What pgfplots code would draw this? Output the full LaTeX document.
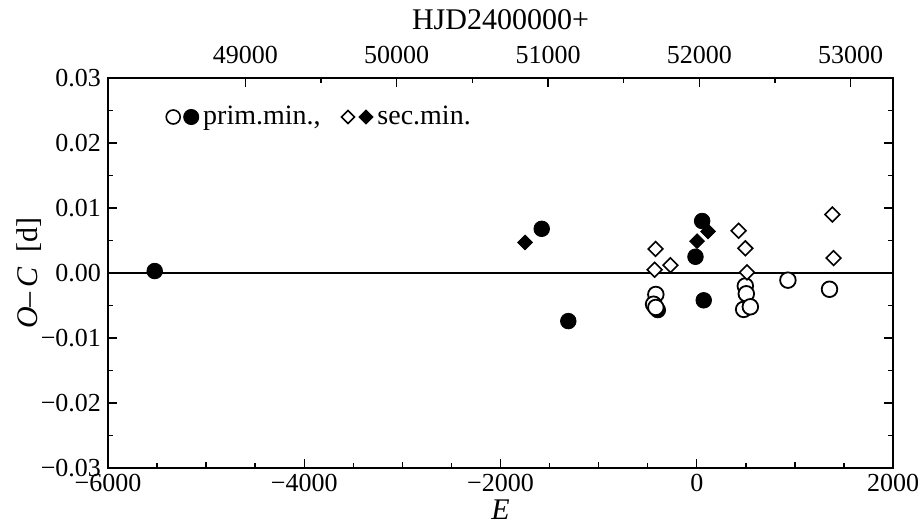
\documentclass[border=0pt]{standalone}
\usepackage{fontspec}
\setmainfont{Liberation Serif}
\usepackage{pgfplots}
\pgfplotsset{compat=1.18}

\pgfplotsset{
  oc frame/.style={
    scale only axis,
    width=392.5pt, height=195pt,
    scaled ticks=false,
    tick align=inside,
    major tick length=4.5pt, minor tick length=2.5pt,
    tick style={black, line width=0.7pt},
    axis line style={line width=0.9pt},
    ticklabel style={font=\fontsize{13}{15}\selectfont},
    label style={font=\fontsize{15}{17}\selectfont},
  },
}

\begin{document}
\begin{tikzpicture}
\begin{axis}[
  oc frame,
  name=main,
  xmin=-6000, xmax=2000,
  ymin=-0.03, ymax=0.03,
  xtick={-6000,-4000,-2000,0,2000},
  xticklabels={−6000,−4000,−2000,0,2000},
  minor x tick num=3,
  extra x ticks={-5000,-3000,-1000,1000},
  extra x tick labels={},
  extra x tick style={major tick length=3.2pt},
  ytick={-0.03,-0.02,-0.01,0,0.01,0.02,0.03},
  yticklabels={−0.03,−0.02,−0.01,0.00,0.01,0.02,0.03},
  minor y tick num=1,
  xtick pos=bottom,
  ytick pos=both,
  xticklabel style={inner sep=0pt, text depth=0pt, yshift=-3pt},
  xlabel={\textit{E}},
  xlabel style={at={(axis description cs:0.5,0)}, anchor=north, inner sep=0pt, text depth=0pt, yshift=-15.5pt},
  ylabel={\textit{O}–\,\textit{C}\ \ [d]},
  ylabel style={at={(axis description cs:-0.084,0.5)}, anchor=south, inner sep=0pt},
  legend style={at={(0.065,0.9)}, anchor=west, draw=none, fill=none,
    font=\fontsize{14}{16}\selectfont, legend columns=2,
    /tikz/every even column/.append style={column sep=8pt}},
]
% zero line
\addplot[black, line width=1.1pt, forget plot] coordinates {(-6000,0) (2000,0)};

% primary minima, filled
\addplot[only marks, mark=*, mark size=3.9pt, black, forget plot] coordinates {
  (-5524,0.0003) (-1580,0.0068) (-1309,-0.0074) (-397,-0.0057)
  (-13,0.0025) (55,0.0080) (71,-0.0042)
};
% secondary minima, filled
\addplot[only marks, mark=square*, mark size=2.6pt, mark options={rotate=45}, black, forget plot] coordinates {
  (-1750,0.0047) (3,0.0049) (115,0.0064)
};
% primary minima, open
\addplot[only marks, mark=*, mark size=3.9pt, mark options={fill=white, draw=black, line width=0.9pt}, forget plot] coordinates {
  (-417,-0.0033) (-440,-0.0048) (-417,-0.0053)
  (495,-0.0020) (505,-0.0032) (478,-0.0056) (546,-0.0052)
  (929,-0.0011) (1353,-0.0025)
};
% secondary minima, open
\addplot[only marks, mark=square*, mark size=2.6pt, mark options={rotate=45, fill=white, draw=black, line width=0.8pt}, forget plot] coordinates {
  (-420,0.0037) (-430,0.0005) (-268,0.0012)
  (427,0.0065) (495,0.0038) (512,0.0001)
  (1383,0.0090) (1394,0.0023)
};

\addlegendimage{legend image code/.code={
  \draw[black, line width=0.8pt, fill=white] (0pt,0pt) circle (3.5pt);
  \fill[black] (9pt,0pt) circle (3.8pt);}}
\addlegendentry{prim.min.,}
\addlegendimage{legend image code/.code={
  \draw[black, line width=0.8pt, fill=white, rotate=45] (-2.3pt,-2.3pt) rectangle (2.3pt,2.3pt);
  \fill[black, shift={(9pt,0pt)}, rotate=45] (-2.5pt,-2.5pt) rectangle (2.5pt,2.5pt);}}
\addlegendentry{sec.min.}
\end{axis}

% HJD scale along the top
\begin{axis}[
  oc frame,
  xmin=48092, xmax=53280,
  ymin=0, ymax=1,
  axis x line*=top,
  axis y line=none,
  x axis line style={-},
  xtick={49000,50000,51000,52000,53000},
  xticklabels={49000,50000,51000,52000,53000},
  minor x tick num=1,
  xticklabel style={inner sep=0pt, yshift=7pt},
  xlabel={HJD2400000+},
  xlabel style={at={(axis description cs:0.5,1)}, anchor=south, inner sep=0pt, yshift=24pt},
]
\end{axis}

% page frame with the reference's margins
\path ([xshift=-54pt,yshift=-28pt]main.south west) rectangle ([xshift=13pt,yshift=39pt]main.north east);
\end{tikzpicture}
\end{document}
